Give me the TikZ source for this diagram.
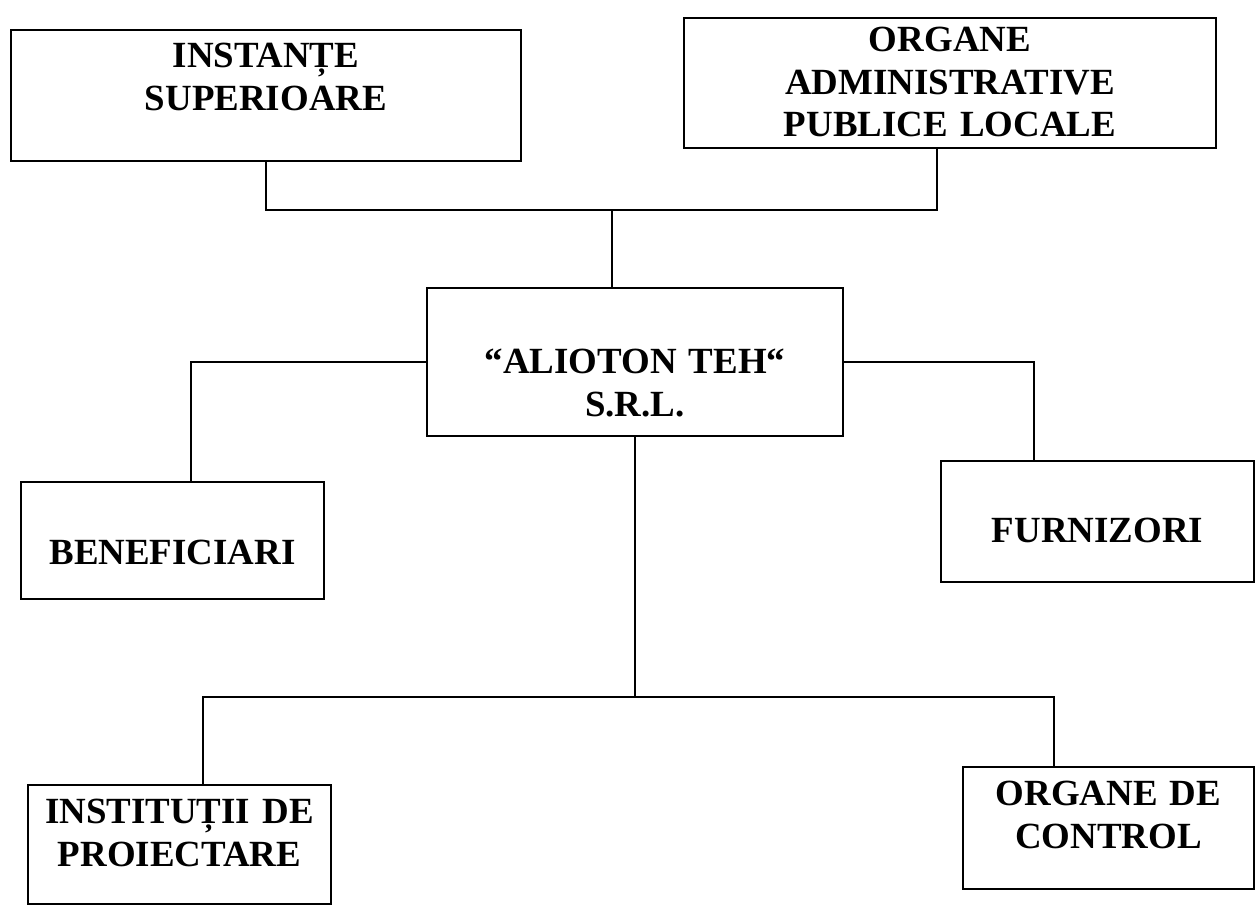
\documentclass[tikz,border=0pt]{standalone}
\usepackage{fontspec}
\setmainfont{Liberation Serif}
\usetikzlibrary{positioning}

\tikzset{
  unitbox/.style={draw, line width=1.1pt, inner sep=0pt, anchor=north west,
    align=center, font=\bfseries\fontsize{21}{24}\selectfont},
  link/.style={line width=1.1pt}
}

\begin{document}
\begin{tikzpicture}
\useasboundingbox (0,0) rectangle (25.1,-18.1);

\node[unitbox, text width=10.2cm, text height=0.76cm, text depth=1.86cm]
  (inst) at (0.2,-0.58) {INSTANȚE\\SUPERIOARE};
\node[unitbox, text width=10.64cm, text height=0.68cm, text depth=1.92cm]
  (localadm) at (13.66,-0.34) {ORGANE\\ADMINISTRATIVE\\PUBLICE LOCALE};
\node[unitbox, text width=8.32cm, text height=1.72cm, text depth=1.24cm]
  (firm) at (8.52,-5.74) {“ALIOTON TEH“\\S.R.L.};
\node[unitbox, text width=6.06cm, text height=1.66cm, text depth=0.68cm]
  (benef) at (0.4,-9.62) {BENEFICIARI};
\node[unitbox, text width=6.26cm, text height=1.64cm, text depth=0.78cm]
  (furn) at (18.8,-9.2) {FURNIZORI};
\node[unitbox, text width=6.06cm, text height=0.78cm, text depth=1.6cm]
  (proiect) at (0.54,-15.68) {INSTITUȚII DE\\PROIECTARE};
\node[unitbox, text width=5.82cm, text height=0.78cm, text depth=1.66cm]
  (control) at (19.24,-15.32) {ORGANE DE\\CONTROL};

% bars
\coordinate (topbar) at (12.24,-4.2);
\coordinate[below=5.2cm of firm.south] (botbar);

\draw[link] (inst.south) |- (topbar) -| ([xshift=-0.26cm]localadm.south);
\draw[link] (topbar) -- (topbar |- firm.north);
\draw[link] (firm.west) -| ([xshift=0.37cm]benef.north);
\draw[link] (firm.east) -| ([xshift=-1.27cm]furn.north);
\draw[link] (firm.south) -- (botbar);
\draw[link] ([xshift=0.47cm]proiect.north) |- (botbar) -| ([xshift=-1.09cm]control.north);
\end{tikzpicture}
\end{document}
